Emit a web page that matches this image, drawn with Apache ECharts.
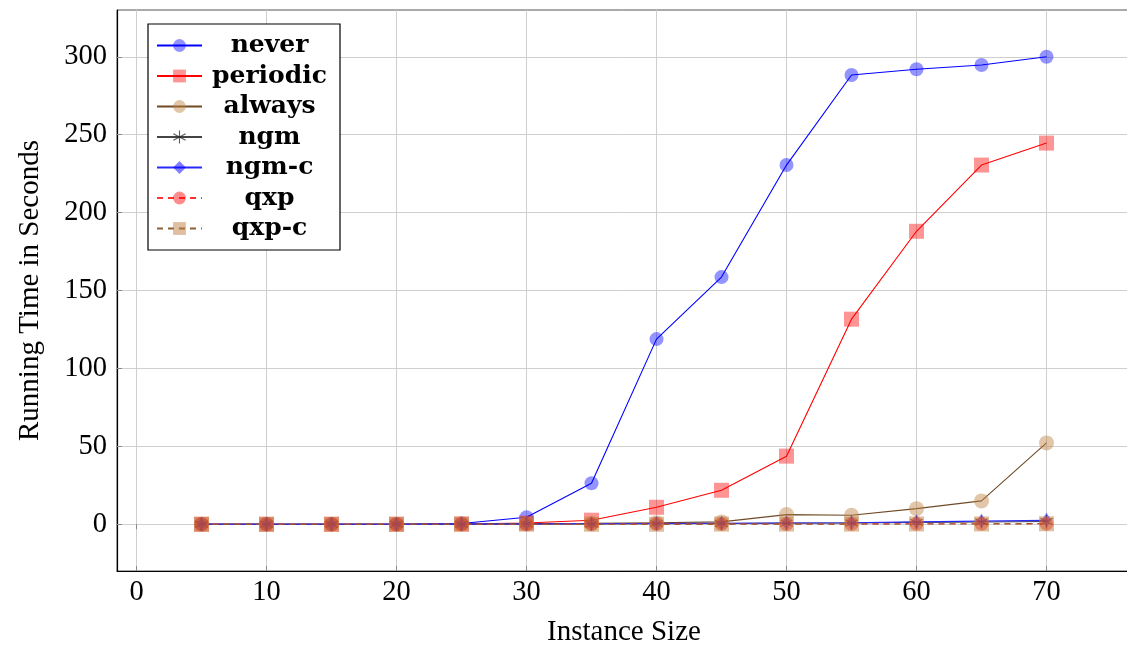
<!DOCTYPE html>
<html>
<head>
<meta charset="utf-8">
<script src="https://cdn.jsdelivr.net/npm/echarts@6/dist/echarts.min.js"></script>
<style>html,body{margin:0;padding:0;background:#fff}#c{width:1127px;height:647px}</style>
</head>
<body>
<div id="c"></div>
<script>
var sizes = [5,10,15,20,25,30,35,40,45,50,55,60,65,70];
var never    = [0,0,0,0,0.5,4.5,26.3,118.8,158.6,230.5,288.3,292,294.7,300];
var periodic = [0,0,0,0,0.2,0.8,2.6,10.9,21.8,43.7,131.6,188,230.5,244.6];
var always   = [0,0,0,0,0.2,0.4,0.6,1,1.5,6.2,5.8,10,15,52.2];
var ngm      = [0,0,0,0,0,0.1,0.2,0.4,0.5,0.7,0.8,1.2,1.4,1.8];
var ngmc     = [0,0,0,0,0.1,0.2,0.3,0.5,0.6,0.8,1,1.5,2,2.5];
var qxp      = [0,0,0,0,0,0,0,0.1,0.1,0.2,0.2,0.3,0.3,0.4];
var qxpc     = [0,0,0,0,0,0,0,0,0.1,0.1,0.1,0.2,0.2,0.3];
var xTicks = [0,10,20,30,40,50,60,70];
var yTicks = [0,50,100,150,200,250,300];

function pairs(v){ return sizes.map(function(x,i){ return [x, v[i]]; }); }
var star = 'path://M-0.08,-1L0.08,-1L0.08,1L-0.08,1Z M-0.93,-0.43L-0.85,-0.57L0.93,0.43L0.85,0.57Z M-0.85,0.57L-0.93,0.43L0.85,-0.57L0.93,-0.43Z';

function mk(name, data, lineColor, dash, symbol, size, symColor){
  return {
    name: name, type: 'line', data: pairs(data),
    symbol: symbol, symbolSize: size, showSymbol: true,
    lineStyle: {color: lineColor, width: 1.1, type: dash ? [6,5] : 'solid'},
    itemStyle: {color: symColor, borderWidth: 0},
    emphasis: {disabled: true},
    animation: false
  };
}

var series = [
  mk('never', never, '#0000ff', false, 'circle', 14, 'rgba(0,0,255,0.42)'),
  mk('periodic', periodic, '#ff0000', false, 'rect', 15, 'rgba(255,0,0,0.42)'),
  mk('always', always, '#6f4a25', false, 'circle', 15, 'rgba(191,128,64,0.45)'),
  mk('ngm', ngm, '#444444', false, star, 13, 'rgba(40,40,40,0.75)'),
  mk('ngm-c', ngmc, '#2a2aff', false, 'diamond', [10,15], 'rgba(0,0,255,0.5)'),
  mk('qxp', qxp, '#ff3030', true, 'circle', 14, 'rgba(255,0,0,0.45)'),
  mk('qxp-c', qxpc, '#8a6035', true, 'rect', 15, 'rgba(191,128,64,0.5)')
];

var serif = '"Liberation Serif", "DejaVu Serif", serif';
var chart = echarts.init(document.getElementById('c'), null, {renderer: 'canvas'});
chart.setOption({
  animation: false,
  backgroundColor: '#fff',
  grid: {left: 117, top: 10, width: 1014, height: 561, show: true, borderColor: '#555', borderWidth: 1,
         containLabel: false, outerBoundsMode: 'none'},
  legend: {
    orient: 'vertical', left: 148, top: 24,
    padding: [9, 8, 9, 8], itemGap: 5.5,
    itemWidth: 45, itemHeight: 16,
    backgroundColor: '#fff', borderColor: '#000', borderWidth: 1.2, borderRadius: 0,
    formatter: function(n){ return '{a|' + n + '}'; },
    textStyle: {
      fontFamily: '"DejaVu Serif", serif', fontWeight: 'bold', fontSize: 25, color: '#000', lineHeight: 24,
      rich: {a: {fontFamily: '"DejaVu Serif", serif', fontWeight: 'bold', fontSize: 25, color: '#000', lineHeight: 24, width: 125, align: 'center'}}
    },
    data: ['never','periodic','always','ngm','ngm-c','qxp','qxp-c']
  },
  xAxis: [{
    type: 'value', min: -1.5, max: 76.5,
    name: 'Instance Size', nameLocation: 'middle', nameGap: 47,
    nameTextStyle: {fontFamily: serif, fontSize: 29, color: '#000'},
    axisLine: {show: true, onZero: false, lineStyle: {color: '#000', width: 1.2}},
    axisTick: {show: true, inside: true, length: 5, customValues: xTicks, lineStyle: {color: '#888'}},
    axisLabel: {customValues: xTicks, fontFamily: serif, fontSize: 28.5, color: '#000', margin: 7},
    splitLine: {show: true, lineStyle: {color: '#cfcfcf', width: 1}}
  }, {
    type: 'value', min: -1.5, max: 76.5, position: 'top',
    axisLine: {show: false},
    axisTick: {show: true, inside: true, length: 5, customValues: xTicks, lineStyle: {color: '#888'}},
    axisLabel: {show: false, customValues: xTicks},
    splitLine: {show: false}
  }],
  yAxis: {
    type: 'value', min: -30, max: 330,
    name: 'Running Time in Seconds', nameLocation: 'middle', nameGap: 72,
    nameTextStyle: {fontFamily: serif, fontSize: 29, color: '#000'},
    axisLine: {show: true, onZero: false, lineStyle: {color: '#000', width: 1.2}},
    axisTick: {show: true, inside: true, length: 5, customValues: yTicks, lineStyle: {color: '#888'}},
    axisLabel: {customValues: yTicks, fontFamily: serif, fontSize: 28.5, color: '#000', margin: 10},
    splitLine: {show: true, lineStyle: {color: '#cfcfcf', width: 1}}
  },
  series: series
});
</script>
</body>
</html>
